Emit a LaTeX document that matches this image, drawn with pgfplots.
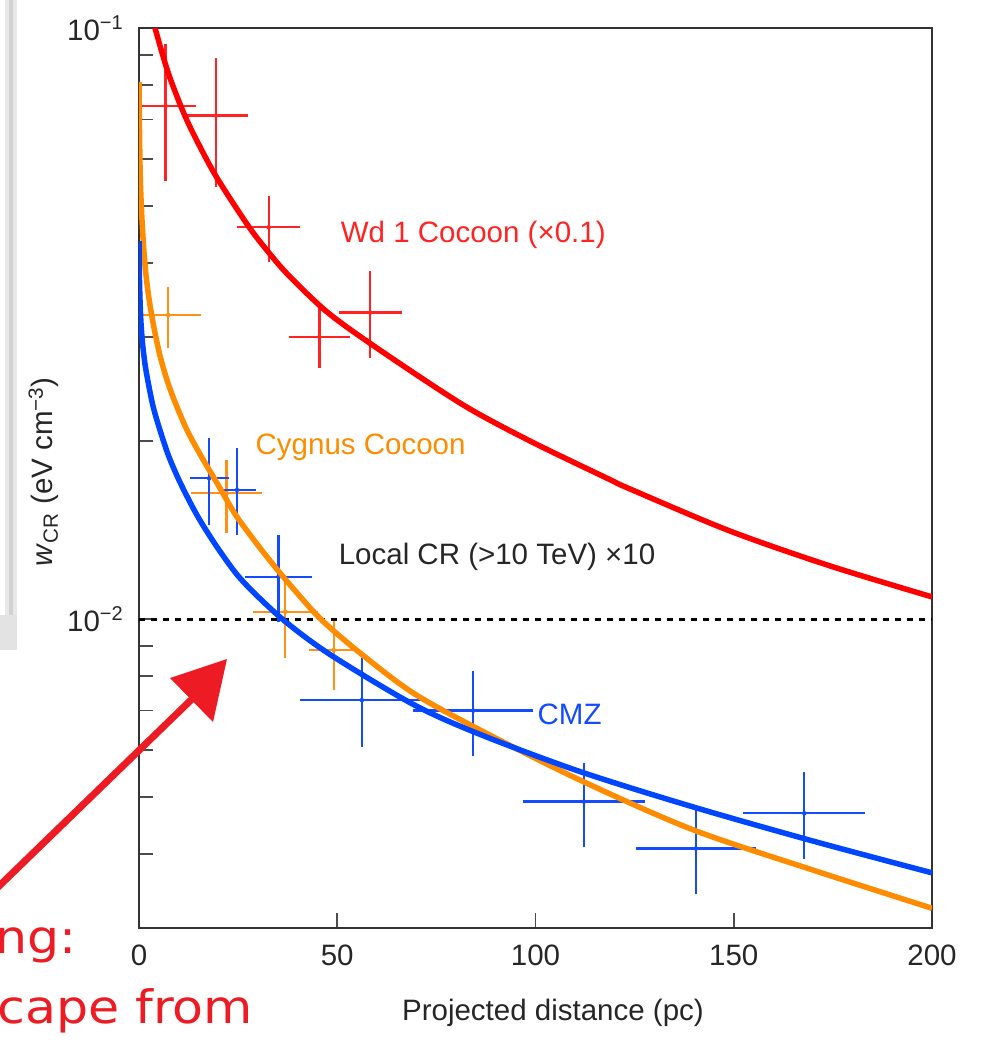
\documentclass[border=0pt]{standalone}
\usepackage{pgfplots}
\usepackage{pgfplotstable}
\pgfplotsset{compat=1.18}
\usepackage{fontspec}
\setmainfont{Liberation Sans}
\newfontfamily\handfont{DejaVu Sans}
\definecolor{cred}{RGB}{255,0,0}
\definecolor{dred}{RGB}{255,35,35}
\definecolor{corange}{RGB}{255,140,0}
\definecolor{dorange}{RGB}{255,145,20}
\definecolor{cblue}{RGB}{0,70,255}
\definecolor{dblue}{RGB}{20,75,255}
\definecolor{arrowred}{RGB}{237,28,36}
\newcommand{\lbl}{\fontsize{29.5}{35}\selectfont}
\newcommand{\tenexp}[1]{10\raisebox{11pt}{\fontsize{20}{20}\selectfont #1}}

\pgfplotstableread{
x y ex eyp eym
6.7 0.0738 6.3 0.0182 0.0176
19.4 0.0711 6.9 0.0160 0.0162
32.7 0.0460 6.6 0.0050 0.0050
45.5 0.0300 6.5 0.0031 0.0029
58.3 0.0330 6.7 0.0050 0.0048
}\reddata

\pgfplotstableread{
x y ex eyp eym
7.4 0.0327 7.0 0.0031 0.0034
22.1 0.01632 7.6 0.00191 0.00208
36.9 0.01029 7.0 0.00135 0.00154
49.1 0.00886 5.0 0.00091 0.00113
}\orangedata

\pgfplotstableread{
x y ex eyp eym
17.7 0.0173 3.7 0.00257 0.0026
24.7 0.01653 3.6 0.00254 0.00238
35.2 0.01179 7.2 0.00181 0.00171
56.2 0.00729 14.3 0.00112 0.00109
84.3 0.0070 13.9 0.00101 0.00101
112.2 0.00491 14.1 0.00068 0.00072
140.4 0.00409 13.9 0.0006 0.0006
167.8 0.00469 14.1 0.00072 0.00069
}\bluedata

\pgfplotstableread{
x y
3.026 0.106
4.035 0.1
7.39 0.0839
11.60 0.07098
15.81 0.06216
20.0 0.05531
27.57 0.04624
32.21 0.04211
37.65 0.03821
47.74 0.03295
60.78 0.02851
81.79 0.02302
98.61 0.02001
117.96 0.01732
123.83 0.0166
149.05 0.01409
174.27 0.0123
200 0.0109
}\redcurve

\pgfplotstableread{
x y
0 0.0810
0.126 0.0672
0.303 0.0564
0.631 0.0492
1.135 0.0429
1.765 0.0382
2.648 0.0344
3.783 0.0311
5.296 0.0279
7.062 0.02537
9.079 0.02329
12.106 0.02088
15.81 0.01879
19.67 0.01699
24.21 0.01506
29.00 0.0136
34.30 0.01225
39.85 0.01107
46.08 0.00996
55.49 0.00879
69.10 0.0075
86.0 0.00649
111.2 0.00534
139.7 0.0044
170.0 0.00376
200 0.00324
}\orangecurve

\pgfplotstableread{
x y
0 0.04361
0.101 0.0382
0.252 0.03466
0.504 0.03168
0.883 0.02931
1.513 0.027
2.346 0.02507
3.531 0.02293
5.044 0.02113
7.39 0.01894
10.09 0.01718
13.11 0.01565
15.81 0.01453
20.18 0.01309
25.90 0.01164
35.99 0.01002
48.17 0.00871
69.18 0.00717
86.0 0.00638
111.2 0.00552
139.7 0.00481
170.0 0.00421
200 0.00372
}\bluecurve

\begin{document}
\begin{tikzpicture}
\path[use as bounding box] (0,0) rectangle (984pt,-1045pt);
% slide frame remnants
\fill[gray!18] (5pt,0pt) rectangle (17pt,-645pt);
\fill[gray!35] (9pt,0pt) rectangle (13pt,-625pt);
\fill[gray!22] (0pt,-615pt) rectangle (17pt,-650pt);
\begin{axis}[
  at={(139pt,-928pt)}, anchor=south west,
  scale only axis, width=793pt, height=900pt,
  xmin=0, xmax=200, ymode=log, ymin=0.003, ymax=0.1,
  clip mode=individual,
  axis line style={black!80, line width=1.6pt},
  tick style={black!70, line width=1.6pt},
  major tick length=15pt, minor tick length=14pt,
  tick align=inside, tick pos=left,
  xtick={0,50,100,150,200},
  ytick={0.01,0.1}, yticklabels={\tenexp{−2},\tenexp{−1}},
  minor ytick={0.004,0.005,0.006,0.007,0.008,0.009,0.02,0.03,0.04,0.05,0.06,0.07,0.08,0.09},
  /pgf/number format/assume math mode=true,
  ticklabel style={font=\lbl, text=black!85},
  xticklabel style={inner sep=0pt, yshift=-17pt},
  yticklabel style={inner sep=0pt, xshift=-16pt},
  xlabel={Projected distance (pc)},
  xlabel style={font=\lbl, text=black!85, at={(axis description cs:0.522,0)}, anchor=north, yshift=-71pt, inner sep=0pt},
  ylabel={\textit{w}\textsubscript{CR} (eV cm\textsuperscript{−3})},
  ylabel style={font=\lbl, text=black!85, at={(axis description cs:-0.1097,0.507)}, anchor=base, inner sep=0pt},
]
% data with error bars
\addplot[only marks, mark=*, mark size=2pt, color=dred,
  error bars/.cd, x dir=both, x explicit, y dir=both, y explicit,
  error bar style={line width=2.3pt, dred},
  error mark options={line width=2.3pt, mark size=5pt, dred}]
  table[x=x, y=y, x error=ex, y error plus=eyp, y error minus=eym]{\reddata};
\addplot[only marks, mark=*, mark size=2pt, color=dorange,
  error bars/.cd, x dir=both, x explicit, y dir=both, y explicit,
  error bar style={line width=2.3pt, dorange},
  error mark options={line width=2.3pt, mark size=5pt, dorange}]
  table[x=x, y=y, x error=ex, y error plus=eyp, y error minus=eym]{\orangedata};
\addplot[only marks, mark=*, mark size=2pt, color=dblue,
  error bars/.cd, x dir=both, x explicit, y dir=both, y explicit,
  error bar style={line width=2.3pt, dblue},
  error mark options={line width=2.3pt, mark size=5pt, dblue}]
  table[x=x, y=y, x error=ex, y error plus=eyp, y error minus=eym]{\bluedata};
% local CR level
\addplot[black, line width=3pt, dash pattern=on 6pt off 6pt] coordinates {(0,0.01) (200,0.01)};
% model curves
\addplot[cred, line width=5.5pt, smooth, tension=0.5] table[x=x,y=y]{\redcurve};
\addplot[corange, line width=5.5pt, smooth, tension=0.5] table[x=x,y=y]{\orangecurve};
\addplot[cblue, line width=5.5pt, smooth, tension=0.5] table[x=x,y=y]{\bluecurve};
% labels
\node[font=\lbl, text=dred, inner sep=0pt] at (axis cs:84.3,0.04465) {Wd 1 Cocoon (×0.1)};
\node[font=\lbl, text=corange, inner sep=0pt] at (axis cs:55.9,0.01954) {Cygnus Cocoon};
\node[font=\lbl, text=black!85, inner sep=0pt] at (axis cs:90.3,0.01274) {Local CR (>10 TeV) ×10};
\node[font=\lbl, text=dblue, inner sep=0pt] at (axis cs:108.6,0.00691) {CMZ};
\end{axis}
% slide annotation arrow and text
\draw[arrowred, line width=7pt] (-4pt,-889pt) -- (192pt,-699pt);
\fill[arrowred] (170pt,-678pt) -- (227pt,-659pt) -- (213pt,-722pt) -- cycle;
\node[anchor=base west, inner sep=0pt, text=arrowred, font=\handfont\fontsize{46}{50}\selectfont, xscale=1.1] at (-5pt,-953pt) {ng:};
\node[anchor=base west, inner sep=0pt, text=arrowred, font=\handfont\fontsize{46}{50}\selectfont, xscale=1.1] at (-3pt,-1023pt) {cape from};
\end{tikzpicture}
\end{document}
